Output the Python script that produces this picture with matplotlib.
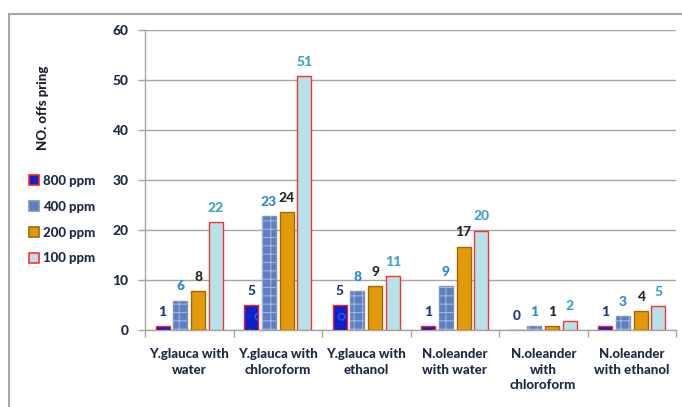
import matplotlib
matplotlib.use('Agg')
import matplotlib.pyplot as plt
import numpy as np
from matplotlib.patches import Rectangle
from matplotlib.lines import Line2D

plt.rcParams['font.family'] = ['Lato', 'DejaVu Sans']
plt.rcParams['hatch.linewidth'] = 0.8

groups = ['Y.glauca with\nwater', 'Y.glauca with\nchloroform', 'Y.glauca with\nethanol',
          'N.oleander\nwith water', 'N.oleander\nwith\nchloroform', 'N.oleander\nwith ethanol']
series = ['800 ppm', '400 ppm', '200 ppm', '100 ppm']
ppm800 = [0.8, 5.0, 5.0, 0.8, 0.0, 0.8]
ppm400 = [5.9, 22.8, 7.8, 8.8, 0.8, 2.8]
ppm200 = [7.8, 23.7, 8.8, 16.7, 0.8, 3.8]
ppm100 = [21.7, 50.8, 10.9, 19.9, 1.9, 4.8]
labels800 = [1, 5, 5, 1, 0, 1]
labels400 = [6, 23, 8, 9, 1, 3]
labels200 = [8, 24, 9, 17, 1, 4]
labels100 = [22, 51, 11, 20, 2, 5]

values = [ppm800, ppm400, ppm200, ppm100]
value_labels = [labels800, labels400, labels200, labels100]
faces = ['#0a22c8', '#5d7fbf', '#e39a0a', '#b6e3ea']
edges = ['#ff2020', '#7f93b8', '#a06a00', '#ff3030']
hatches = ['o', '++', None, None]
hatch_cols = ['#3050e8', '#9fb4de', None, None]
label_cols = ['#1f3a7a', '#2a86d8', '#262626', '#3aa3c6']

fig = plt.figure(figsize=(6.82, 4.07), dpi=100)
fig.patch.set_facecolor('white')
fig.add_artist(Rectangle((9 / 682, -0.1), 1.2, (407 - 14) / 407 + 0.1,
                         transform=fig.transFigure, fill=False,
                         edgecolor='#a8a8a8', linewidth=1.5))

ax = fig.add_axes([145 / 682, 77 / 407, 531 / 682, 300 / 407])
x = np.arange(len(groups))
slot = 0.2
width = 0.16
for i, (vals, labs) in enumerate(zip(values, value_labels)):
    pos = x + (i - 1.5) * slot
    bars = ax.bar(pos, vals, width, color=faces[i], edgecolor=edges[i],
                  linewidth=1.0, zorder=3, label=series[i])
    if hatches[i]:
        ax.bar(pos, vals, width, color='none', edgecolor=hatch_cols[i],
               hatch=hatches[i], linewidth=0, zorder=4)
    for b, lab in zip(bars, labs):
        ax.text(b.get_x() + b.get_width() / 2, b.get_height() + 1.6, str(lab),
                ha='center', va='bottom', fontsize=10, fontweight='black',
                color=label_cols[i], zorder=5)

ax.set_xlim(-0.5, len(groups) - 0.5)
ax.set_ylim(0, 60)
ax.set_yticks(np.arange(0, 61, 10))
ax.yaxis.grid(True, color='#a6a6a6', linewidth=1.0, zorder=0)
ax.set_axisbelow(True)
for s in ['top', 'right']:
    ax.spines[s].set_visible(False)
for s in ['left', 'bottom']:
    ax.spines[s].set_color('#a6a6a6')
    ax.spines[s].set_linewidth(1.0)

ax.set_xticks(x)
ax.set_xticklabels(groups, fontsize=9.5, fontweight='black', color='#1f2a44',
                   linespacing=1.35, va='top')
ax.tick_params(axis='x', length=0, pad=13)
ax.set_xticks(np.arange(-0.5, len(groups), 1.0), minor=True)
ax.tick_params(axis='x', which='minor', length=5, color='#a6a6a6', width=1)
ax.tick_params(axis='y', length=5, color='#a6a6a6', width=1, labelsize=10,
               labelcolor='#1f2a44', pad=7)
for t in ax.get_yticklabels():
    t.set_fontweight('black')

fig.text(43 / 682, 1 - 108 / 407, 'NO. offs pring', rotation=90, ha='center',
         va='center', fontsize=9.5, fontweight='black', color='#1a1a2e')

handles = [Line2D([0], [0], marker='s', linestyle='none', markersize=7,
                  markerfacecolor=faces[i], markeredgecolor=edges[i],
                  markeredgewidth=1.2) for i in range(4)]
leg = fig.legend(handles, series, loc='upper left',
                 bbox_to_anchor=(18 / 682, 1 - 163 / 407), frameon=False,
                 handlelength=0.6, handletextpad=0.4, labelspacing=1.05,
                 prop={'weight': 'black', 'size': 9.5})
for t in leg.get_texts():
    t.set_color('#1f2a44')

fig.savefig('out.png', dpi=100, facecolor='white')
